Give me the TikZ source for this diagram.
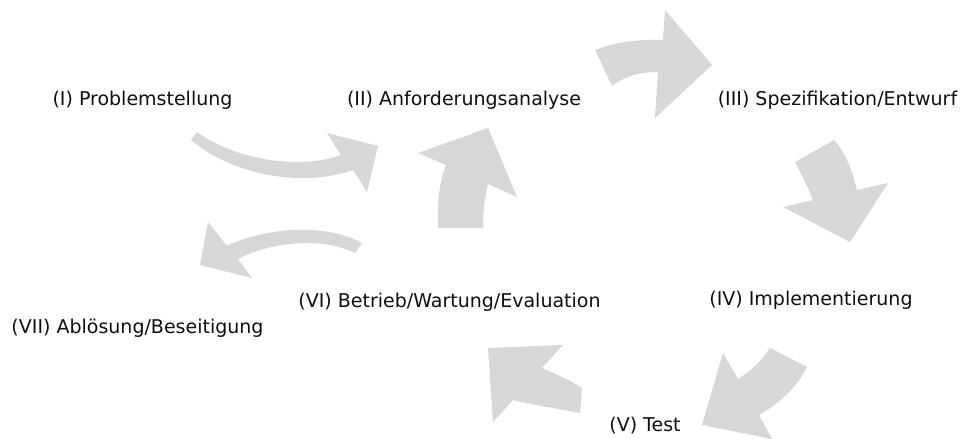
\documentclass[tikz,border=0pt]{standalone}
\usepackage{fontspec}
\setmainfont{DejaVu Sans}
\definecolor{arrowgray}{RGB}{215,215,215}
\definecolor{txt}{RGB}{15,15,15}
\begin{document}
\begin{tikzpicture}[x=1pt,y=-1pt,
  lbl/.style={anchor=base,inner sep=0pt,text=txt,font=\fontsize{19}{23}\selectfont},
  blockarrow/.style={fill=arrowgray,draw=none}]
\useasboundingbox (0,0) rectangle (962,439);
\fill[white] (0,0) rectangle (962,439);
% labels
\node[lbl] (t1) at (142.5,105) {(I) Problemstellung};
\node[lbl] (t2) at (464,105) {(II) Anforderungsanalyse};
\node[lbl] (t3) at (837.5,105) {(III) Spezifikation/Entwurf};
\node[lbl] (t4) at (811,305) {(IV) Implementierung};
\node[lbl] (t5) at (645,431) {(V) Test};
\node[lbl] (t6) at (449.5,307) {(VI) Betrieb/Wartung/Evaluation};
\node[lbl] (t7) at (137.5,333) {(VII) Ablösung/Beseitigung};
% arrow I -> II
\path[blockarrow] (197,132) .. controls (235,160) and (300,170) .. (341,155)
  -- (327,133) -- (378,146) -- (367,192) -- (353,170)
  .. controls (305,187) and (235,177) .. (191,140) -- cycle;
% arrow VI -> II
\path[blockarrow] (438,228) .. controls (437,200) and (440,180) .. (446,165)
  -- (418,153) -- (488,128) -- (517,197) -- (488,184)
  .. controls (484,200) and (483,215) .. (483,228) -- cycle;
% arrow II -> III
\path[blockarrow] (595,50) .. controls (615,42) and (640,39) .. (663,40)
  -- (665,10) -- (712,65) -- (655,118) -- (658,72)
  .. controls (640,72) and (625,76) .. (612,86) -- cycle;
% arrow III -> IV
\path[blockarrow] (795,162) .. controls (802,175) and (808,188) .. (813,200)
  -- (783,207) -- (850,242) -- (888,183) -- (857,190)
  .. controls (852,170) and (845,152) .. (834,140) -- cycle;
% arrow IV -> V
\path[blockarrow] (770,348) .. controls (762,360) and (752,370) .. (738,379)
  -- (723,353) -- (702,425) -- (772,439) -- (759,415)
  .. controls (780,403) and (797,387) .. (807,367) -- cycle;
% arrow V -> VI
\path[blockarrow] (542,368) .. controls (558,375) and (572,381) .. (582,388)
  -- (580,413) .. controls (555,408) and (532,405) .. (513,400)
  -- (493,422) -- (488,348) -- (563,345) -- cycle;
% arrow VI -> VII
\path[blockarrow] (362,243) .. controls (330,225) and (270,225) .. (227,246)
  -- (208,222) -- (200,265) -- (252,278) -- (238,259)
  .. controls (275,240) and (325,238) .. (355,253) -- cycle;
\end{tikzpicture}
\end{document}
